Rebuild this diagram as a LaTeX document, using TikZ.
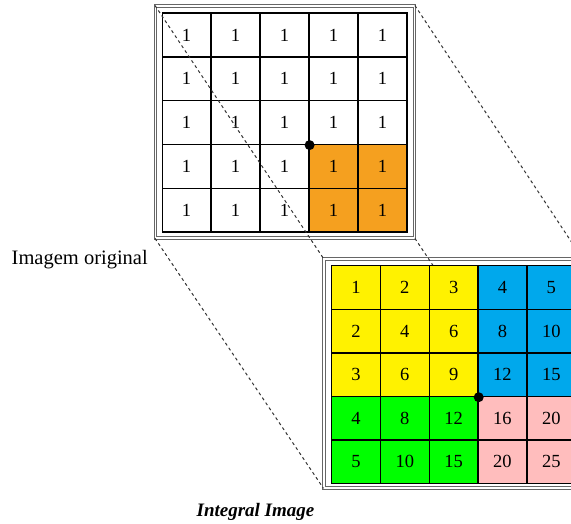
\documentclass[tikz,border=0pt]{standalone}
\usepackage{fontspec}
\setmainfont{Liberation Serif}
\definecolor{corange}{HTML}{F5A01F}
\definecolor{col0}{HTML}{FFF200}
\definecolor{col1}{HTML}{00A8EC}
\definecolor{col2}{HTML}{00FF00}
\definecolor{col3}{HTML}{FFBDBD}
\begin{document}
\begin{tikzpicture}[x=1pt,y=-1pt,
  cell/.style={draw=black, line width=1.3pt, minimum width=48.8pt, minimum height=43.7pt,
    inner sep=0pt, anchor=north west, font=\fontsize{18.5}{18.5}\selectfont},
  frame/.style={draw=black!60, line width=0.9pt, double=white, double distance=1.5pt,
    inner sep=0pt, anchor=north west},
  link/.style={dash pattern=on 3pt off 3pt, line width=1pt, draw=black!80},
  dot/.style={circle, fill=black, inner sep=0pt, minimum size=10pt},
  lab/.style={inner sep=0pt}]
\useasboundingbox (0,0) rectangle (571,524);
\clip (0,0) rectangle (571,524);
% original image grid
\foreach \r in {0,...,4}{
  \foreach \c in {0,...,4}{
    \node[cell] (t\r\c) at ({161.5+\c*49},{12.5+\r*43.8}) {1};
  }
}
\foreach \r in {3,4}{
  \foreach \c in {3,4}{
    \node[cell, fill=corange] (o\r\c) at ({161.5+\c*49},{12.5+\r*43.8}) {1};
  }
}
\node[frame, minimum width=259pt, minimum height=232pt] (top) at (155,5.5) {};
\node[dot] (d1) at (t22.south east) {};
% bottom frame (drawn before links so links show across it)
\node[frame, minimum width=258pt, minimum height=229pt] (bot) at (323.5,258.5) {};
% dashed links
\draw[link] (top.north west) -- (bot.north west);
\draw[link] (top.south west) -- (bot.south west);
\draw[link] (top.north east) -- (bot.north east);
\draw[link] (top.south east) -- (bot.south east);
% integral image grid
\foreach \r in {0,...,4}{
  \foreach \c in {0,...,4}{
    \pgfmathtruncatemacro\k{2*(\r>2)+(\c>2)}
    \pgfmathtruncatemacro\v{(\r+1)*(\c+1)}
    \node[cell, fill=col\k] (b\r\c) at ({331+\c*48.8},{265+\r*43.6}) {\v};
  }
}
\node[dot] (d2) at (b22.south east) {};
% labels
\node[lab, anchor=base west, font=\fontsize{20.5}{21}\selectfont] (lab1) at (11.5,265) {Imagem original};
\node[lab, anchor=base, font=\fontsize{19}{20}\selectfont\bfseries\itshape] (lab2) at (255.5,516) {Integral Image};
\end{tikzpicture}
\end{document}
